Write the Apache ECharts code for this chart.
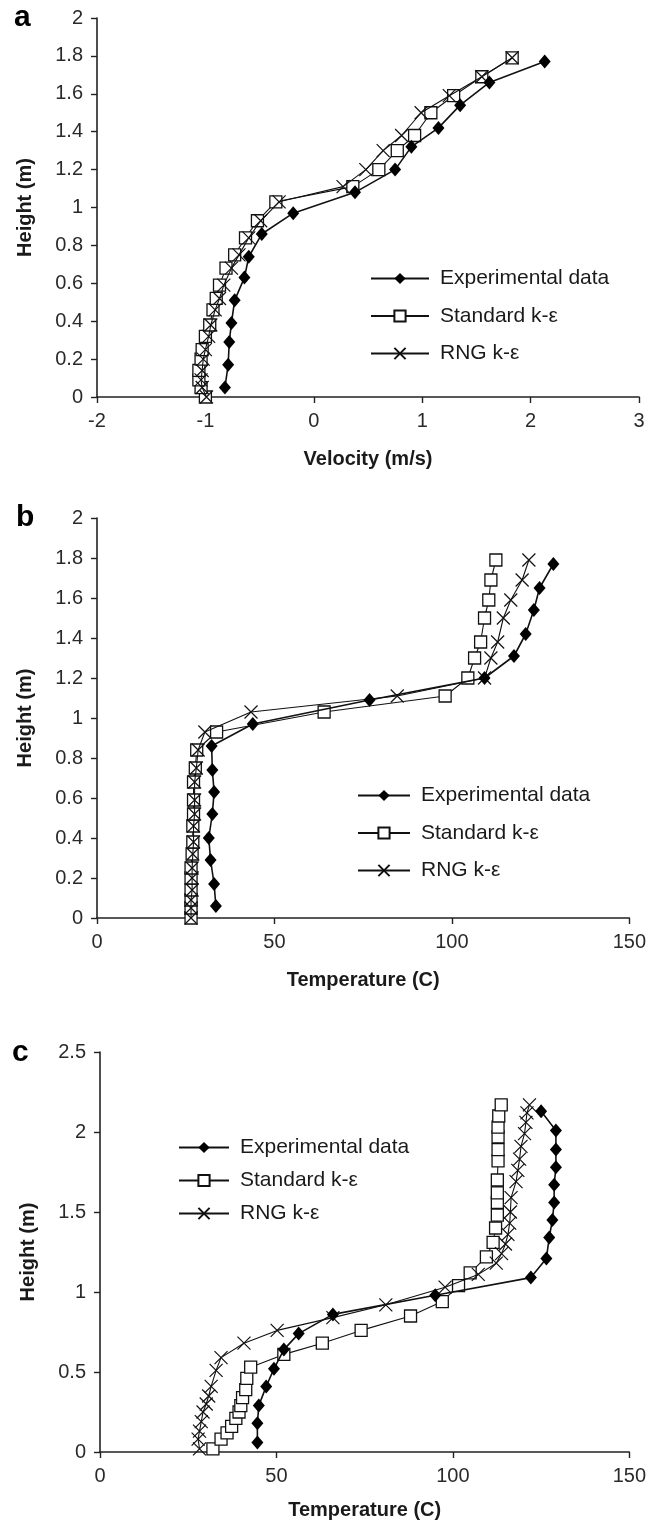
<!DOCTYPE html>
<html>
<head>
<meta charset="utf-8">
<script src="https://cdn.jsdelivr.net/npm/echarts@6/dist/echarts.min.js"></script>
<style>
html, body { margin: 0; padding: 0; background: #fff; }
#main { width: 649px; height: 1525px; }
</style>
</head>
<body>
<div id="main"></div>
<script>
// names shown in the legends
var names = ['Experimental data', 'Standard k-ε', 'RNG k-ε'];

// panel a: velocity (m/s) vs height (m)
var aExpH = [0.05, 0.17, 0.29, 0.39, 0.51, 0.63, 0.74, 0.86, 0.97, 1.08, 1.20, 1.32, 1.42, 1.54, 1.66, 1.77];
var aExpV = [-0.82, -0.79, -0.78, -0.76, -0.73, -0.64, -0.60, -0.48, -0.19, 0.38, 0.75, 0.90, 1.15, 1.35, 1.62, 2.13];
var aSimH = [0.0, 0.05, 0.09, 0.14, 0.20, 0.25, 0.32, 0.38, 0.46, 0.52, 0.59, 0.68, 0.75, 0.84, 0.93, 1.03, 1.11, 1.20, 1.30, 1.38, 1.50, 1.59, 1.69, 1.79];
var aStdV = [-1.0, -1.04, -1.06, -1.06, -1.04, -1.03, -1.0, -0.96, -0.93, -0.90, -0.87, -0.81, -0.73, -0.63, -0.52, -0.35, 0.36, 0.60, 0.77, 0.93, 1.08, 1.29, 1.55, 1.83];
var aRngV = [-0.99, -1.03, -1.04, -1.03, -1.02, -1.0, -0.97, -0.95, -0.91, -0.87, -0.83, -0.76, -0.69, -0.60, -0.49, -0.32, 0.27, 0.48, 0.64, 0.81, 0.99, 1.25, 1.55, 1.83];

// panel b: temperature (C) vs height (m)
var bExpH = [0.06, 0.17, 0.29, 0.40, 0.52, 0.63, 0.74, 0.86, 0.97, 1.09, 1.20, 1.31, 1.42, 1.54, 1.65, 1.77];
var bExpT = [33.5, 33, 32, 31.5, 32.5, 33, 32.5, 32.3, 43.9, 76.8, 109.2, 117.5, 120.8, 123.1, 124.7, 128.6];
var bSimH = [0.0, 0.05, 0.09, 0.14, 0.20, 0.25, 0.32, 0.38, 0.46, 0.52, 0.59, 0.68, 0.75, 0.84, 0.93, 1.03, 1.11, 1.20, 1.30, 1.38, 1.50, 1.59, 1.69, 1.79];
var bStdT = [26.5, 26.5, 26.5, 26.5, 26.5, 26.5, 26.8, 27, 27, 27.2, 27.2, 27.2, 27.7, 28.1, 33.7, 64.0, 98.1, 104.5, 106.4, 108.1, 109.2, 110.4, 111.0, 112.4];
var bRngT = [26.5, 26.5, 26.5, 26.8, 26.8, 26.8, 27, 27.2, 27.2, 27.5, 27.5, 27.5, 28, 28.5, 30.4, 43.4, 84.6, 109.2, 111.0, 112.9, 114.5, 116.6, 119.8, 121.7];

// panel c: temperature (C) vs height (m)
var cExpH = [0.06, 0.18, 0.29, 0.41, 0.52, 0.64, 0.74, 0.86, 0.98, 1.09, 1.21, 1.34, 1.45, 1.56, 1.67, 1.78, 1.89, 2.01, 2.13];
var cExpT = [44.6, 44.6, 45.0, 47.1, 49.3, 52.1, 56.3, 66, 95, 122.1, 126.5, 127.3, 128.2, 128.7, 128.7, 129.2, 129.2, 129.2, 125];
var cStdH = [0.02, 0.08, 0.12, 0.16, 0.21, 0.25, 0.29, 0.34, 0.39, 0.46, 0.53, 0.61, 0.68, 0.76, 0.85, 0.94, 1.04, 1.12, 1.22, 1.31, 1.40, 1.48, 1.56, 1.62, 1.70, 1.82, 1.89, 1.97, 2.03, 2.10, 2.17];
var cStdT = [32.0, 34.3, 36.0, 37.3, 38.5, 39.4, 39.9, 40.4, 41.3, 41.6, 42.7, 52.1, 63, 74, 88, 97, 101.6, 104.9, 109.5, 111.4, 112.1, 112.6, 112.6, 112.6, 112.6, 112.8, 112.8, 112.8, 112.8, 113.0, 113.7];
var cRngH = [0.02, 0.08, 0.13, 0.19, 0.25, 0.30, 0.35, 0.41, 0.51, 0.59, 0.68, 0.76, 0.84, 0.92, 1.03, 1.11, 1.18, 1.24, 1.30, 1.36, 1.43, 1.50, 1.59, 1.69, 1.76, 1.83, 1.91, 1.99, 2.06, 2.12, 2.17];
var cRngT = [28.2, 27.8, 28.2, 28.7, 29.2, 30.1, 30.8, 31.5, 32.9, 34.3, 40.8, 50.2, 66, 81, 97.8, 107.2, 112.3, 113.8, 114.9, 115.6, 116.1, 116.3, 116.5, 117.9, 118.4, 118.9, 119.3, 120.3, 120.7, 121.0, 121.7];

var chart = echarts.init(document.getElementById('main'));

var font = 'Liberation Sans, Arial, sans-serif';
var ink = '#1a1a1a';

function pts(xs, ys) {
    return xs.map(function (x, i) { return [x, ys[i]]; });
}

// marker looks for the three series
var looks = [
    { symbol: 'diamond', symbolSize: [12, 14], itemStyle: { color: '#000', borderColor: '#000', borderWidth: 0 } },
    { symbol: 'rect', symbolSize: 12, itemStyle: { color: '#fff', borderColor: '#111', borderWidth: 1.3 } },
    { symbol: 'path://M0,0L10,10M0,10L10,0', symbolSize: 13, itemStyle: { color: 'none', borderColor: '#111', borderWidth: 1.2 } }
];
var zs = [4, 2, 3]; // crosses sit on top of the squares

function mk(k, gi, data) {
    return {
        name: names[k],
        type: 'line',
        xAxisIndex: gi,
        yAxisIndex: gi,
        data: data,
        symbol: looks[k].symbol,
        symbolSize: looks[k].symbolSize,
        itemStyle: looks[k].itemStyle,
        lineStyle: { color: '#111', width: k == 0 ? 1.6 : 1.1 },
        showAllSymbol: true,
        animation: false,
        z: zs[k]
    };
}

function xAx(gi, min, max, step, title, gap) {
    return {
        type: 'value', gridIndex: gi, min: min, max: max, interval: step,
        name: title, nameLocation: 'middle', nameGap: gap,
        nameTextStyle: { fontFamily: font, fontSize: 20, fontWeight: 'bold', color: ink },
        axisLine: { onZero: false, lineStyle: { color: '#222', width: 1.6 } },
        axisTick: { length: 6, lineStyle: { color: '#222', width: 1.4 } },
        axisLabel: { fontFamily: font, fontSize: 20, color: '#2a2a2a', margin: 14 },
        splitLine: { show: false }
    };
}

function yAx(gi, min, max, step) {
    return {
        type: 'value', gridIndex: gi, min: min, max: max, interval: step,
        name: 'Height (m)', nameLocation: 'middle', nameGap: 62, nameRotate: 90,
        nameTextStyle: { fontFamily: font, fontSize: 20, fontWeight: 'bold', color: ink },
        axisLine: { onZero: false, lineStyle: { color: '#222', width: 1.6 } },
        axisTick: { length: 6, lineStyle: { color: '#222', width: 1.4 } },
        axisLabel: { fontFamily: font, fontSize: 20, color: '#2a2a2a', margin: 14 },
        splitLine: { show: false }
    };
}

function leg(left, top, w, gap) {
    return {
        orient: 'vertical', left: left, top: top, padding: 0,
        itemWidth: w, itemHeight: 14, itemGap: gap,
        data: names,
        textStyle: { fontFamily: font, fontSize: 21, color: ink, lineHeight: 21, padding: [0, 0, 0, 6] }
    };
}

function letter(t, left, top) {
    return { text: t, left: left, top: top, padding: 0,
        textStyle: { fontFamily: font, fontSize: 30, fontWeight: 'bold', color: '#000' } };
}

var option = {
    backgroundColor: '#fff',
    animation: false,
    title: [letter('a', 14, 3), letter('b', 16, 503), letter('c', 12, 1038)],
    grid: [
        { left: 97, top: 18, width: 542, height: 379 },
        { left: 97, top: 518, width: 540, height: 400 },
        { left: 100, top: 1052, width: 537, height: 400 }
    ],
    xAxis: [
        xAx(0, -2, 3, 1, 'Velocity (m/s)', 52),
        xAx(1, 0, 150, 50, 'Temperature (C)', 52),
        xAx(2, 0, 150, 50, 'Temperature (C)', 48)
    ],
    yAxis: [
        yAx(0, 0, 2, 0.2),
        yAx(1, 0, 2, 0.2),
        yAx(2, 0, 2.5, 0.5)
    ],
    legend: [
        leg(370, 268, 58, 16.5),
        leg(357, 785, 52, 16.5),
        leg(178, 1137, 50, 12)
    ],
    series: [
        mk(0, 0, pts(aExpV, aExpH)),
        mk(1, 0, pts(aStdV, aSimH)),
        mk(2, 0, pts(aRngV, aSimH)),
        mk(0, 1, pts(bExpT, bExpH)),
        mk(1, 1, pts(bStdT, bSimH)),
        mk(2, 1, pts(bRngT, bSimH)),
        mk(0, 2, pts(cExpT, cExpH)),
        mk(1, 2, pts(cStdT, cStdH)),
        mk(2, 2, pts(cRngT, cRngH))
    ]
};

chart.setOption(option);
</script>
</body>
</html>
